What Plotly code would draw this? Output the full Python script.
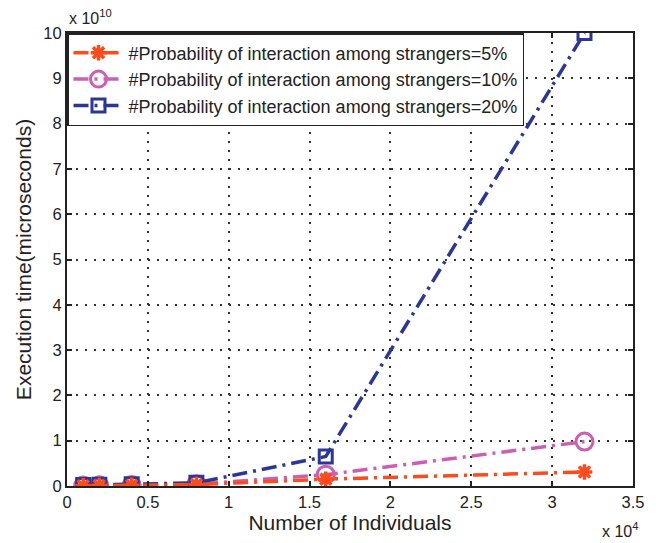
import plotly.graph_objects as go

individuals = [1000, 2000, 4000, 8000, 16000, 32000]
p5 = [0.005e10, 0.01e10, 0.015e10, 0.03e10, 0.15e10, 0.31e10]
p10 = [0.01e10, 0.015e10, 0.02e10, 0.04e10, 0.25e10, 0.98e10]
p20 = [0.02e10, 0.03e10, 0.04e10, 0.07e10, 0.65e10, 10.0e10]
names = ["#Probability of interaction among strangers=5%",
         "#Probability of interaction among strangers=10%",
         "#Probability of interaction among strangers=20%"]
xticks = [0, 5000, 10000, 15000, 20000, 25000, 30000, 35000]
xtick_labels = ["0", "0.5", "1", "1.5", "2", "2.5", "3", "3.5"]
yticks = [i * 1e10 for i in range(11)]
ytick_labels = [str(i) for i in range(11)]

fig = go.Figure()
dash = "15px,6px,3px,6px"
fig.add_trace(go.Scatter(x=individuals, y=p10, name=names[1], mode="lines+markers",
                         line=dict(color="#CC5FB2", width=3.5, dash=dash),
                         marker=dict(symbol="circle-open", size=17, line=dict(width=3, color="#CC5FB2")),
                         legendrank=2))
fig.add_trace(go.Scatter(x=individuals, y=p20, name=names[2], mode="lines+markers",
                         line=dict(color="#2B3699", width=3.5, dash=dash),
                         marker=dict(symbol="square-open", size=13, line=dict(width=3, color="#2B3699")),
                         legendrank=3))
fig.add_trace(go.Scatter(x=individuals, y=p5, name=names[0], mode="lines+markers",
                         line=dict(color="#FF4A1C", width=3.5, dash=dash),
                         marker=dict(symbol="asterisk-open", size=13, line=dict(width=3.5, color="#FF4A1C")),
                         legendrank=1))

axis_common = dict(showline=True, linecolor="#222", linewidth=2, mirror="ticks",
                   ticks="inside", ticklen=5, tickwidth=1.5, tickcolor="#222",
                   showgrid=True, gridcolor="#333", griddash="2px,7px", gridwidth=1.5,
                   zeroline=False, tickfont=dict(size=16.5, color="#222"))
fig.update_xaxes(range=[0, 35000], tickvals=xticks, ticktext=xtick_labels,
                 title=dict(text="Number of Individuals", font=dict(size=21, color="#222"), standoff=0),
                 **axis_common)
fig.update_yaxes(range=[0, 10e10], tickvals=yticks, ticktext=ytick_labels,
                 title=dict(text="Execution time(microseconds)", font=dict(size=21, color="#222"), standoff=6),
                 **axis_common)

fig.add_annotation(text="x 10<sup>10</sup>", xref="paper", yref="paper", x=0, y=1.008,
                   xanchor="left", yanchor="bottom", showarrow=False, font=dict(size=16, color="#222"))
fig.add_annotation(text="x 10<sup>4</sup>", xref="paper", yref="paper", x=1.012, y=-0.07,
                   xanchor="right", yanchor="top", showarrow=False, font=dict(size=16, color="#222"))

fig.update_layout(
    width=656, height=543,
    margin=dict(l=67, r=15, t=33, b=57),
    paper_bgcolor="white", plot_bgcolor="white",
    font=dict(family="Liberation Sans, Arial, sans-serif", color="#222"),
    legend=dict(x=0.0, y=1.0, xanchor="left", yanchor="top", bgcolor="white",
                bordercolor="#222", borderwidth=1.5, font=dict(size=18, color="#222"),
                tracegroupgap=0, itemwidth=50),
)
fig.write_html("out.html", config={"displayModeBar": False},
               post_script="document.body.style.margin='0';")
